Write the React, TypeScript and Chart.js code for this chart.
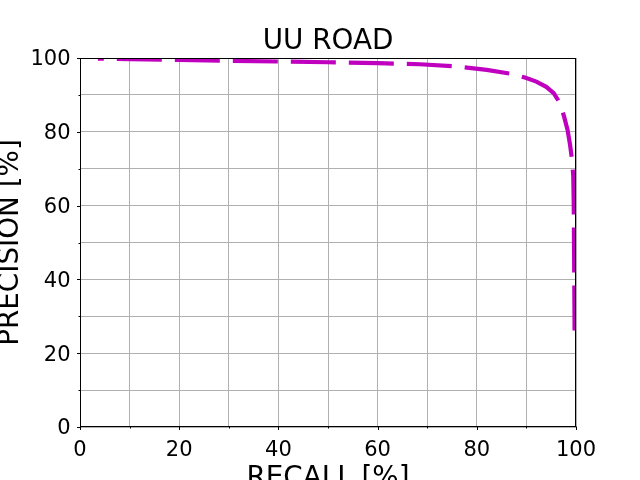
import React, { useEffect, useRef } from "react";
import { Chart, registerables } from "chart.js";

Chart.register(...registerables);

const recall = [3.6, 10, 20, 30, 40, 50, 60, 68.5, 75, 78, 82, 87, 89.7, 92, 94, 95.5, 96.8, 97.6, 98.3, 98.8, 99.2, 99.45, 99.55, 99.6, 99.65, 99.7, 99.72];
const precision = [99.85, 99.7, 99.5, 99.25, 99.05, 98.85, 98.6, 98.3, 97.8, 97.4, 96.8, 95.7, 94.7, 93.6, 92.2, 90.5, 87.7, 84.1, 80.5, 76.5, 72.4, 68, 60, 50, 40, 30, 24.7];
const titleText = "UU ROAD";
const xTitle = "RECALL [%]";
const yTitle = "PRECISION [%]";
const FONT = "'DejaVu Sans', sans-serif";

const decor = {
  id: "decor",
  afterDraw(chart: any) {
    const { ctx, chartArea: a, scales } = chart;
    ctx.save();
    ctx.strokeStyle = "#000";
    ctx.lineWidth = 1;
    const L = Math.round(a.left) + 0.5, R = Math.round(a.right) - 0.5;
    const T = Math.round(a.top) + 0.5, B = Math.round(a.bottom) - 0.5;
    ctx.strokeRect(L, T, R - L, B - T);
    const xs = scales.x, ys = scales.y;
    ctx.beginPath();
    for (let v = 0; v <= 100; v += 10) {
      const len = v % 20 === 0 ? 3.5 : 2;
      const px = Math.round(xs.getPixelForValue(v)) + 0.5;
      ctx.moveTo(px, B);
      ctx.lineTo(px, B + len);
      const py = Math.round(ys.getPixelForValue(v)) + 0.5;
      ctx.moveTo(L, py);
      ctx.lineTo(L - len, py);
    }
    ctx.stroke();
    ctx.fillStyle = "#000";
    ctx.font = `27.8px ${FONT}`;
    ctx.textAlign = "center";
    ctx.textBaseline = "alphabetic";
    ctx.fillText(titleText, (a.left + a.right) / 2, 48.5);
    ctx.fillText(xTitle, (a.left + a.right) / 2, 485.5);
    ctx.translate(17.5, (a.top + a.bottom) / 2);
    ctx.rotate(-Math.PI / 2);
    ctx.fillText(yTitle, 0, 0);
    ctx.restore();
  },
};

export default function App() {
  const ref = useRef<HTMLCanvasElement>(null);
  useEffect(() => {
    const points = recall.map((r, i) => ({ x: r, y: precision[i] }));
    const chart = new Chart(ref.current!, {
      type: "scatter",
      data: {
        datasets: [
          {
            data: points,
            showLine: true,
            borderColor: "#bf00bf",
            borderWidth: 4.2,
            borderDash: [45, 13],
            borderDashOffset: 39,
            borderCapStyle: "butt",
            pointRadius: 0,
            tension: 0,
            fill: false,
          } as any,
        ],
      },
      options: {
        responsive: false,
        animation: false,
        events: [],
        layout: { padding: { top: 58, right: 64, left: 0, bottom: 0 } },
        plugins: { legend: { display: false }, tooltip: { enabled: false }, title: { display: false } },
        scales: {
          x: {
            type: "linear",
            min: 0,
            max: 100,
            afterFit: (s: any) => { s.height = 53; },
            ticks: {
              stepSize: 10,
              autoSkip: false,
              maxRotation: 0,
              padding: 11,
              color: "#000",
              font: { family: FONT, size: 21 },
              callback: (v: any) => (v % 20 === 0 ? String(v) : ""),
            },
            grid: { color: "#b0b0b0", lineWidth: 1, drawTicks: false },
            border: { display: false },
          },
          y: {
            type: "linear",
            min: 0,
            max: 100,
            afterFit: (s: any) => { s.width = 80; },
            ticks: {
              stepSize: 10,
              autoSkip: false,
              padding: 9.5,
              labelOffset: 2,
              color: "#000",
              font: { family: FONT, size: 21 },
              callback: (v: any) => (v % 20 === 0 ? String(v) : ""),
            },
            grid: { color: "#b0b0b0", lineWidth: 1, drawTicks: false },
            border: { display: false },
          },
        },
      },
      plugins: [decor],
    });
    return () => chart.destroy();
  }, []);
  return (
    <div style={{ position: "fixed", left: 0, top: 0, width: 640, height: 480, background: "#fff" }}>
      <canvas ref={ref} width={640} height={480} style={{ width: 640, height: 480, display: "block" }} />
    </div>
  );
}
